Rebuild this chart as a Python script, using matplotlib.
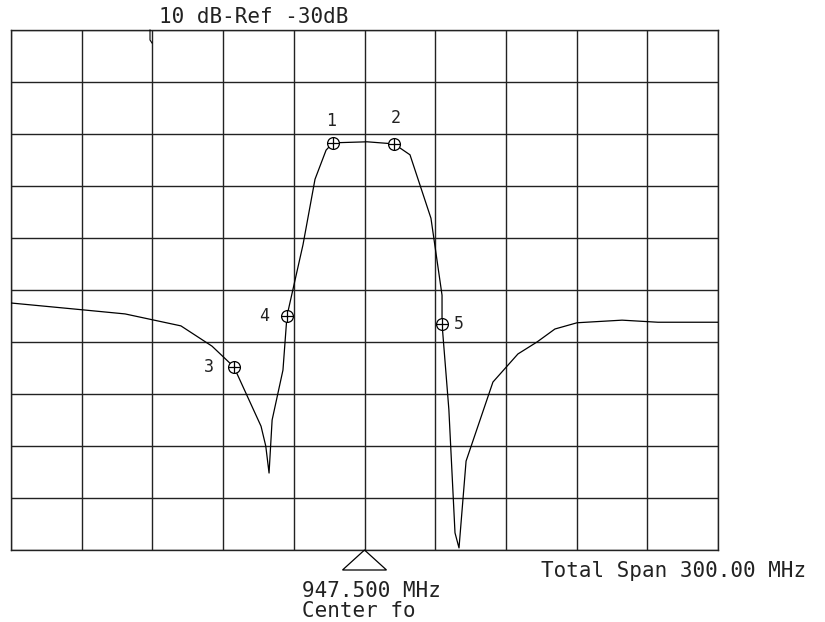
import matplotlib
matplotlib.use("Agg")
import matplotlib.pyplot as plt
import matplotlib.transforms as mtransforms
from matplotlib.patches import Polygon

# ---- data (MHz, dB) ----
center_mhz = 947.5
span_mhz = 300.0
ref_db = -30.0
db_per_div = 10.0
n_div = 10

freq_mhz = [797.5, 827.6, 845.9, 869.6, 882.8, 892.1, 903.6, 905.6, 907.0, 908.3,
            912.9, 914.6, 921.4, 926.5, 931.2, 934.1, 948.6, 960.0, 966.8, 975.7,
            980.4, 980.4, 983.3, 985.9, 987.6, 990.6, 1002.0, 1012.6, 1020.7,
            1028.3, 1037.7, 1056.8, 1072.0, 1097.5]
level_db = [-82.5, -83.8, -84.6, -86.9, -90.8, -94.8, -106.2, -110.0, -115.2, -105.0,
            -95.4, -85.0, -71.3, -58.7, -53.1, -51.7, -51.5, -51.9, -54.0, -66.2,
            -81.0, -86.5, -103.0, -126.7, -129.6, -112.9, -97.7, -92.3, -90.0,
            -87.5, -86.3, -85.8, -86.2, -86.2]

marker_freq = [934.1, 960.0, 892.1, 914.6, 980.4]
marker_db = [-51.7, -51.9, -94.8, -85.0, -86.5]
marker_labels = ["1", "2", "3", "4", "5"]
# label offsets in pixels (dx, dy)
label_offsets = [(-2, 22), (2, 26), (-25, 0), (-23, 0), (17, 0)]

title_text = "10 dB-Ref -30dB"
span_text = "Total Span 300.00 MHz"
center_text = "947.500 MHz"
center_label = "Center fo"

W, H = 825, 622
fig = plt.figure(figsize=(W / 100, H / 100), dpi=100)
ax = fig.add_axes([11 / W, (H - 550) / H, 707 / W, 520 / H])

x0 = center_mhz - span_mhz / 2
x1 = center_mhz + span_mhz / 2
y1 = ref_db
y0 = ref_db - db_per_div * n_div
ax.set_xlim(x0, x1)
ax.set_ylim(y0, y1)
ax.set_xticks([x0 + i * span_mhz / n_div for i in range(n_div + 1)])
ax.set_yticks([y0 + i * db_per_div for i in range(n_div + 1)])
ax.tick_params(length=0, labelbottom=False, labelleft=False)
ax.grid(True, color="#222222", linewidth=1.0)
for s in ax.spines.values():
    s.set_color("#222222")
    s.set_linewidth(1.0)

ax.plot(freq_mhz, level_db, color="black", linewidth=0.9, zorder=3)

ax.plot(marker_freq, marker_db, linestyle="none", marker="o", markersize=8.5,
        markerfacecolor="white", markeredgecolor="black", markeredgewidth=0.9, zorder=4)
ax.plot(marker_freq, marker_db, linestyle="none", marker="+", markersize=8.5,
        markeredgecolor="black", markeredgewidth=0.9, zorder=5)

mono = "DejaVu Sans Mono"
for f, d, lab, (dx, dy) in zip(marker_freq, marker_db, marker_labels, label_offsets):
    ax.annotate(lab, (f, d), xytext=(dx * 0.72, dy * 0.72), textcoords="offset points",
                ha="center", va="center", fontsize=12, family=mono, color="#222222")

# center triangle below the axis (pixel-sized, anchored at center frequency)
fig.canvas.draw()
cx, cy = ax.transData.transform((center_mhz, y0))
tri = Polygon([(cx, cy), (cx - 22, cy - 20), (cx + 22, cy - 20)], closed=True,
              fill=False, edgecolor="black", linewidth=0.9,
              transform=mtransforms.IdentityTransform(), clip_on=False)
fig.add_artist(tri)

# small reference hook at top edge
hx, hy = ax.transData.transform((x0 + span_mhz * 139 / 707, y1))
fig.add_artist(plt.Line2D([hx, hx, hx + 2], [hy, hy - 10, hy - 13],
                          transform=mtransforms.IdentityTransform(),
                          color="black", linewidth=0.8))

fig.text(254 / W, 1 - 17 / H, title_text, ha="center", va="center", fontsize=15,
         family=mono, color="#222222")
fig.text(674 / W, 1 - 577 / H, span_text, ha="center", va="baseline", fontsize=15,
         family=mono, color="#222222")
fig.text(302 / W, 1 - 597 / H, center_text, ha="left", va="baseline", fontsize=15,
         family=mono, color="#222222")
fig.text(302 / W, 1 - 617 / H, center_label, ha="left", va="baseline", fontsize=15,
         family=mono, color="#222222")

fig.savefig("out.png", dpi=100, facecolor="white")
